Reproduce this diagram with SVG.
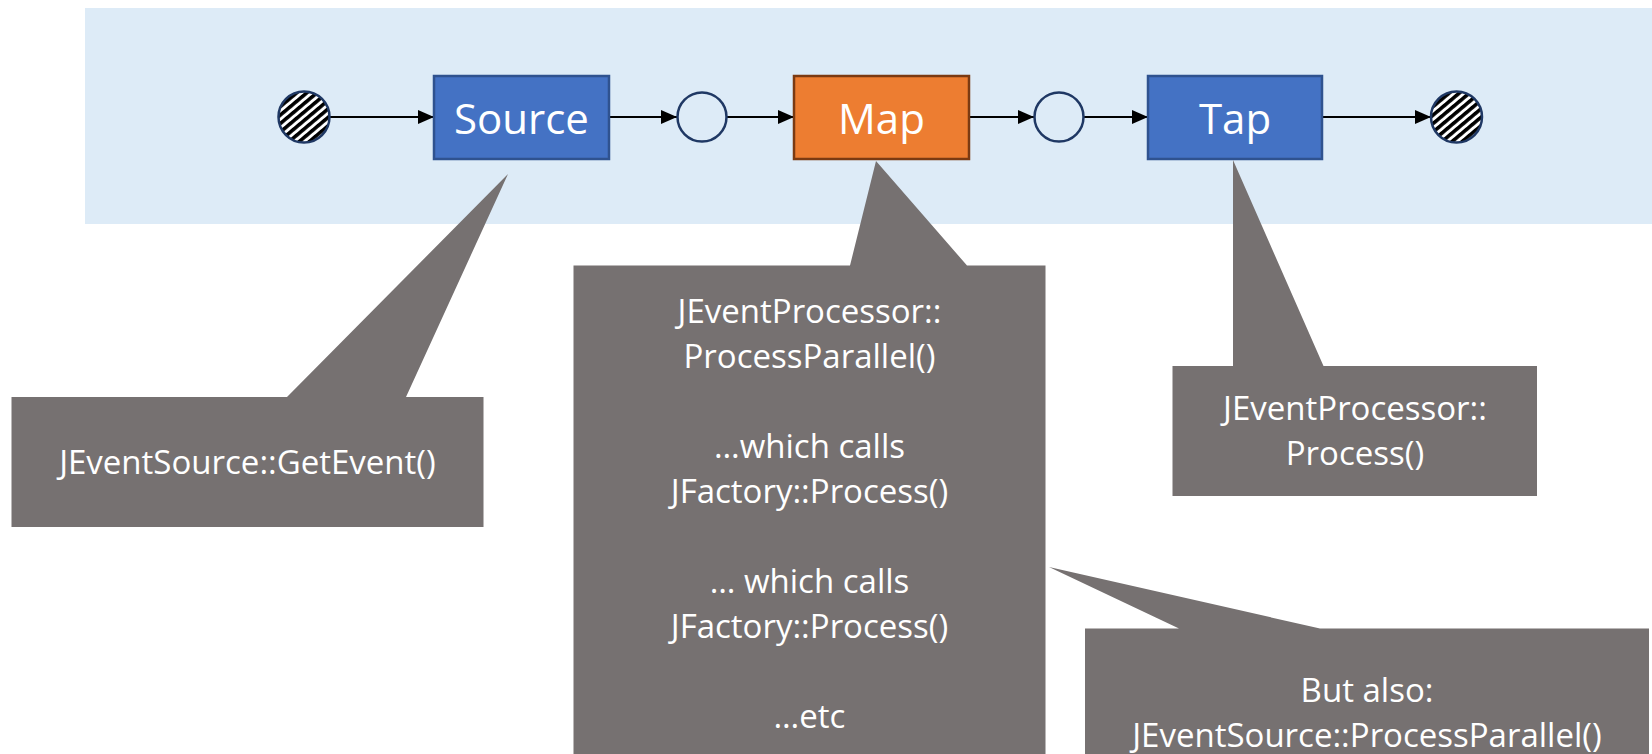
<svg xmlns="http://www.w3.org/2000/svg" width="1652" height="754" viewBox="0 0 1652 754">
  <style>
    .band { fill: #DDEBF7; }
    .blue { fill: #4472C4; stroke: #2F528F; stroke-width: 2.5; }
    .orange { fill: #ED7D31; stroke: #7B3A12; stroke-width: 2.5; }
    .buffer { fill: none; stroke: #1F3864; stroke-width: 2.5; }
    .terminal { fill: url(#hatch); stroke: #1F3864; stroke-width: 2.5; }
    .label { font-family: "Open Sans", "Noto Sans", sans-serif; font-size: 42px; fill: #FFFFFF; text-anchor: middle; }
    .callout { fill: #767171; }
    .note { font-family: "Open Sans", "Noto Sans", sans-serif; font-size: 33px; fill: #FFFFFF; text-anchor: middle; }
    .edge { stroke: #000000; stroke-width: 2.2; fill: none; marker-end: url(#arrow); }
  </style>
  <defs>
    <pattern id="hatch" width="6.5" height="6.5" patternUnits="userSpaceOnUse" patternTransform="rotate(-40)">
      <rect width="6.5" height="6.5" fill="#FFFFFF"/>
      <rect width="6.5" height="3.6" fill="#000000"/>
    </pattern>
    <marker id="arrow" markerUnits="userSpaceOnUse" markerWidth="17" markerHeight="15" refX="16" refY="7" orient="auto">
      <path d="M0,0 L16,7 L0,14 Z" fill="#000000"/>
    </marker>
  </defs>

  <!-- pipeline lane -->
  <rect class="band" x="85" y="8" width="1567" height="216"/>

  <!-- connectors -->
  <g id="connectors">
    <line class="edge" x1="330" y1="117" x2="434" y2="117"/>
    <line class="edge" x1="609" y1="117" x2="677" y2="117"/>
    <line class="edge" x1="727" y1="117" x2="794" y2="117"/>
    <line class="edge" x1="969" y1="117" x2="1034" y2="117"/>
    <line class="edge" x1="1084" y1="117" x2="1148" y2="117"/>
    <line class="edge" x1="1322" y1="117" x2="1431" y2="117"/>
  </g>

  <!-- pipeline nodes -->
  <g id="start">
    <circle class="terminal" cx="304" cy="117" r="25.5"/>
  </g>
  <g id="source">
    <rect class="blue" x="434" y="76" width="175" height="83"/>
    <text class="label" x="521.5" y="134">Source</text>
  </g>
  <g id="queue1">
    <circle class="buffer" cx="702" cy="117" r="24.5"/>
  </g>
  <g id="map">
    <rect class="orange" x="794" y="76" width="175" height="83"/>
    <text class="label" x="881.5" y="134">Map</text>
  </g>
  <g id="queue2">
    <circle class="buffer" cx="1059" cy="117" r="24.5"/>
  </g>
  <g id="tap">
    <rect class="blue" x="1148" y="76" width="174" height="83"/>
    <text class="label" x="1235" y="134">Tap</text>
  </g>
  <g id="end">
    <circle class="terminal" cx="1456.5" cy="117" r="25.5"/>
  </g>

  <!-- callouts -->
  <g id="callout-source">
    <path class="callout" d="M11.5,397 L287,397 L508,174 L406,397 L483.5,397 L483.5,527 L11.5,527 Z"/>
    <text class="note" x="247.5" y="474">JEventSource::GetEvent()</text>
  </g>
  <g id="callout-map">
    <path class="callout" d="M573.5,265.5 L850,265.5 L876,161 L967,265.5 L1045.5,265.5 L1045.5,760 L573.5,760 Z"/>
    <text class="note" x="809.5" y="323">JEventProcessor::</text>
    <text class="note" x="809.5" y="368">ProcessParallel()</text>
    <text class="note" x="809.5" y="458">…which calls</text>
    <text class="note" x="809.5" y="503">JFactory::Process()</text>
    <text class="note" x="809.5" y="593">… which calls</text>
    <text class="note" x="809.5" y="638">JFactory::Process()</text>
    <text class="note" x="809.5" y="728">…etc</text>
  </g>
  <g id="callout-tap">
    <path class="callout" d="M1172.5,366 L1233,366 L1233,160 L1323.5,366 L1537,366 L1537,496 L1172.5,496 Z"/>
    <text class="note" x="1355" y="420">JEventProcessor::</text>
    <text class="note" x="1355" y="465">Process()</text>
  </g>
  <g id="callout-also">
    <path class="callout" d="M1085,628.5 L1179,628.5 L1049,567 L1320,628.5 L1649,628.5 L1649,760 L1085,760 Z"/>
    <text class="note" x="1367" y="702">But also:</text>
    <text class="note" x="1367" y="747">JEventSource::ProcessParallel()</text>
  </g>
</svg>
